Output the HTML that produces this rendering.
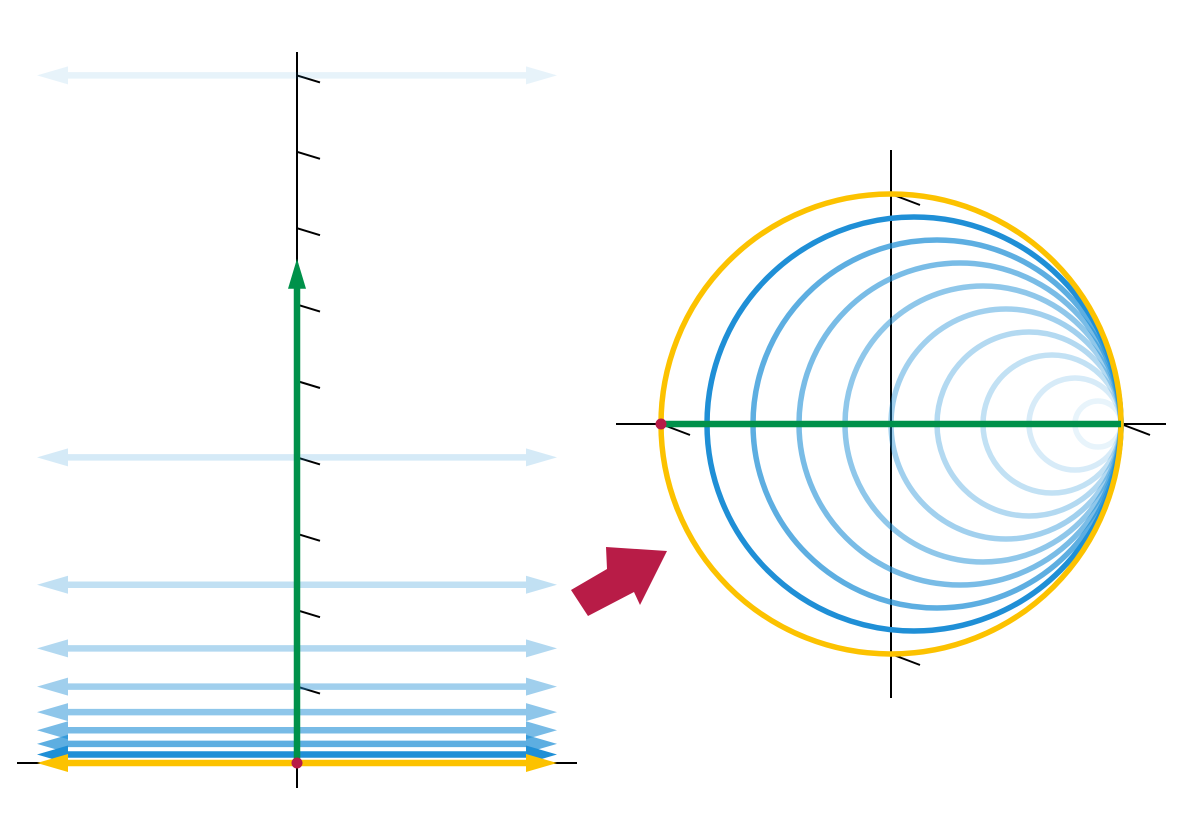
<!DOCTYPE html>
<html><head><meta charset="utf-8"><style>html,body{margin:0;padding:0;background:#fff}svg{display:block}</style></head>
<body>
<svg id="chart" width="1188" height="840" xmlns="http://www.w3.org/2000/svg">
<g id="left"></g>
<g id="right"></g>
<polygon points="571,590 607,569 606,547 667,551 640,605 634,592 588,616" fill="#b81c47"/>
</svg>
<script>
const resistances = [0, 1/9, 0.25, 3/7, 2/3, 1, 1.5, 7/3, 4, 9];
const opacities = [1, 1, 0.72, 0.6, 0.5, 0.42, 0.34, 0.27, 0.18, 0.1];
const tickValues = [1, 2, 3, 4, 5, 6, 7, 8, 9];
const greenEnd = 6.6;

const NS = "http://www.w3.org/2000/svg";
const L = document.getElementById('left'), R = document.getElementById('right');
function mk(tag, attrs, parent){const e=document.createElementNS(NS,tag);for(const k in attrs)e.setAttribute(k,attrs[k]);parent.appendChild(e);return e;}
const y0 = 763, sc = 76.4, ax = 297;
const yL = v => y0 - v*sc;
const blue = "#1f8fd6", yellow = "#fcc200", green = "#00914a", red = "#b81c47";

let e = mk('line',{x1:17,y1:y0,x2:577,y2:y0,stroke:"#000","stroke-width":2},L);
 
e = mk('line',{x1:ax,y1:52,x2:ax,y2:788,stroke:"#000","stroke-width":2},L);
 
tickValues.forEach(v=>{
  const t = mk('line',{x1:ax,y1:yL(v),x2:ax+23,y2:yL(v)+7,stroke:"#000","stroke-width":2},L);
   
});
for (let i = resistances.length-1; i >= 0; i--) {
  const y = yL(resistances[i]);
  const col = i===0 ? yellow : blue, op = i===0 ? 1 : opacities[i];
  const g = mk('g',{opacity:op},L);
  
  
  mk('line',{x1:60,y1:y,x2:532,y2:y,stroke:col,"stroke-width":6.5},g);
  mk('polygon',{points:`37,${y} 68,${y-9} 68,${y+9}`,fill:col},g);
  mk('polygon',{points:`557,${y} 526,${y-9} 526,${y+9}`,fill:col},g);
}
e = mk('line',{x1:ax,y1:y0,x2:ax,y2:yL(greenEnd)+26,stroke:green,"stroke-width":6.5},L);
 
e = mk('polygon',{points:`${ax},${yL(greenEnd)} ${ax-9},${yL(greenEnd)+30} ${ax+9},${yL(greenEnd)+30}`,fill:green},L);
 
e = mk('circle',{cx:ax,cy:y0,r:5.5,fill:red},L);
 

const cx = 891, cy = 424, RU = 230;
const xR = u => cx + u*RU;
e = mk('line',{x1:616,y1:cy,x2:1166,y2:cy,stroke:"#000","stroke-width":2},R);
 
e = mk('line',{x1:cx,y1:150,x2:cx,y2:698,stroke:"#000","stroke-width":2},R);
 
[[cx,cy-RU],[cx,cy+RU],[cx-RU,cy],[cx+RU,cy]].forEach(p=>{
  const t = mk('line',{x1:p[0],y1:p[1],x2:p[0]+29,y2:p[1]+11,stroke:"#000","stroke-width":2},R);
   
});
for (let i = resistances.length-1; i >= 0; i--) {
  const r = resistances[i];
  const c = mk('circle',{cx:xR(r/(1+r)),cy:cy,r:RU/(1+r),fill:"none",stroke:i===0?yellow:blue,"stroke-width":5.5,opacity:i===0?1:opacities[i]},R);
  
  
}
e = mk('line',{x1:xR(-1),y1:cy,x2:xR(1),y2:cy,stroke:green,"stroke-width":6.5},R);
 
e = mk('circle',{cx:xR(-1),cy:cy,r:5.5,fill:red},R);
 
</script>
</body></html>
